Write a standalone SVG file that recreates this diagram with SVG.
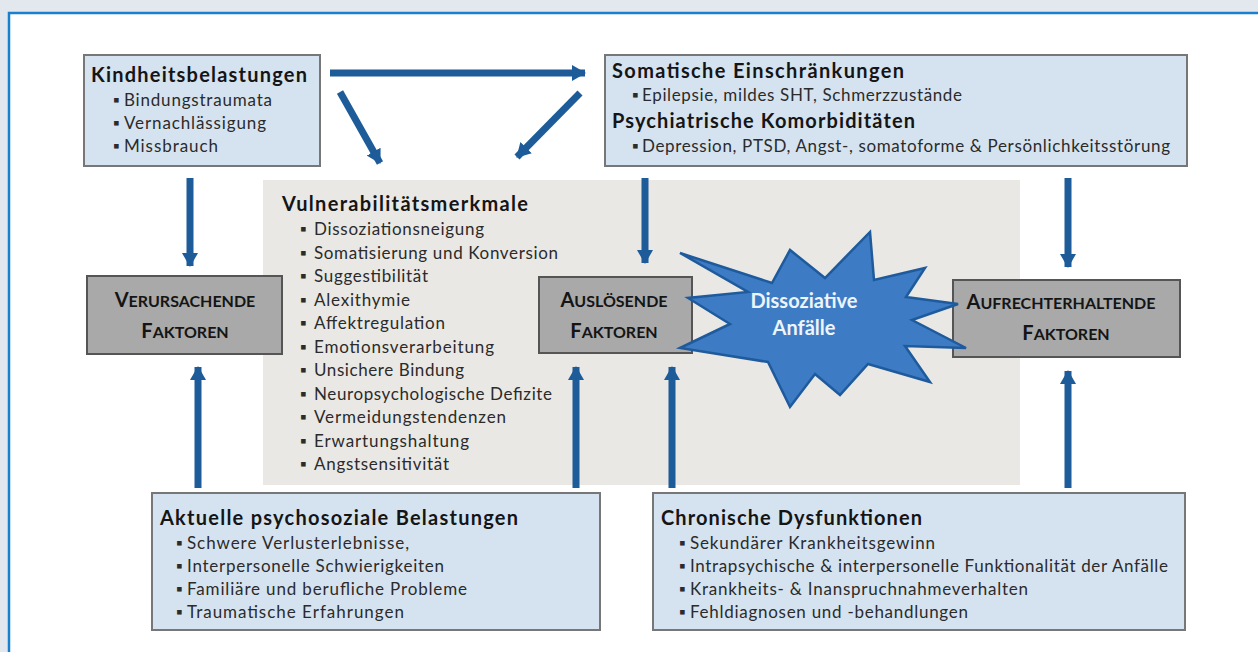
<svg xmlns="http://www.w3.org/2000/svg" width="1258" height="652" viewBox="0 0 1258 652">
<defs>
<marker id="ah" markerUnits="userSpaceOnUse" markerWidth="18" markerHeight="18" refX="13" refY="9" orient="auto">
<path d="M0,1 L14,9 L0,17 Z" fill="#1d5b99"/>
</marker>
<style>
.box{fill:#d5e3f1;stroke:#777;stroke-width:2}
.fac{fill:#a9a9a9;stroke:#555;stroke-width:2}
.t{font-family:Lato,"Liberation Sans",sans-serif;font-weight:bold;font-size:20px;fill:#151515}
.i{font-family:Lato,"Liberation Sans",sans-serif;font-size:17px;fill:#2b2b2b}
.f{font-family:Lato,"Liberation Sans",sans-serif;font-weight:bold;fill:#151515;text-anchor:middle}
.big{font-size:20px}
.sm{font-size:16px}
.st{font-family:Lato,"Liberation Sans",sans-serif;font-weight:bold;font-size:20px;fill:#eef4fb;text-anchor:middle}
.a{stroke:#1d5b99;stroke-width:7;fill:none;marker-end:url(#ah)}
</style>
</defs>
<rect x="0" y="0" width="1258" height="652" fill="#e3e7ee"/>
<rect x="9" y="13" width="1260" height="650" fill="#ffffff" stroke="#1a7fcf" stroke-width="2.5"/>

<g id="vulnerabilitaet">
<rect x="263" y="180" width="757" height="305" fill="#e9e8e5"/>
<text class="t" x="282" y="211" textLength="246">Vulnerabilitätsmerkmale</text>
<g class="i">
<text x="300" y="235">▪</text><text x="314" y="235" textLength="170">Dissoziationsneigung</text>
<text x="300" y="259">▪</text><text x="314" y="259" textLength="244">Somatisierung und Konversion</text>
<text x="300" y="282">▪</text><text x="314" y="282" textLength="114">Suggestibilität</text>
<text x="300" y="306">▪</text><text x="314" y="306" textLength="96">Alexithymie</text>
<text x="300" y="329">▪</text><text x="314" y="329" textLength="131">Affektregulation</text>
<text x="300" y="353">▪</text><text x="314" y="353" textLength="180">Emotionsverarbeitung</text>
<text x="300" y="376">▪</text><text x="314" y="376" textLength="150">Unsichere Bindung</text>
<text x="300" y="400">▪</text><text x="314" y="400" textLength="238">Neuropsychologische Defizite</text>
<text x="300" y="423">▪</text><text x="314" y="423" textLength="192">Vermeidungstendenzen</text>
<text x="300" y="447">▪</text><text x="314" y="447" textLength="155">Erwartungshaltung</text>
<text x="300" y="470">▪</text><text x="314" y="470" textLength="135">Angstsensitivität</text>
</g>
</g>

<g id="kindheit">
<rect class="box" x="84" y="55" width="236" height="111"/>
<text class="t" x="91" y="82" textLength="216">Kindheitsbelastungen</text>
<g class="i">
<text x="113" y="106">▪</text><text x="124" y="106" textLength="148">Bindungstraumata</text>
<text x="113" y="129">▪</text><text x="124" y="129" textLength="142">Vernachlässigung</text>
<text x="113" y="152">▪</text><text x="124" y="152" textLength="94">Missbrauch</text>
</g>
</g>

<g id="somatisch">
<rect class="box" x="605" y="55" width="582" height="111"/>
<text class="t" x="612" y="78" textLength="292">Somatische Einschränkungen</text>
<g class="i">
<text x="632" y="101">▪</text><text x="642" y="101" textLength="320">Epilepsie, mildes SHT, Schmerzzustände</text>
</g>
<text class="t" x="612" y="128" textLength="303">Psychiatrische Komorbiditäten</text>
<g class="i">
<text x="632" y="152">▪</text><text x="642" y="152" textLength="528">Depression, PTSD, Angst-, somatoforme &amp;  Persönlichkeitsstörung</text>
</g>
</g>

<g id="verursachende">
<rect class="fac" x="87" y="276" width="195" height="78"/>
<text class="f" x="185" y="307"><tspan class="big">V</tspan><tspan class="sm">ERURSACHENDE</tspan></text>
<text class="f" x="185" y="338"><tspan class="big">F</tspan><tspan class="sm">AKTOREN</tspan></text>
</g>

<g id="ausloesende">
<rect class="fac" x="539" y="277" width="153" height="76"/>
<text class="f" x="614" y="307"><tspan class="big">A</tspan><tspan class="sm">USLÖSENDE</tspan></text>
<text class="f" x="614" y="338"><tspan class="big">F</tspan><tspan class="sm">AKTOREN</tspan></text>
</g>

<g id="aufrechterhaltende">
<rect class="fac" x="953" y="280" width="227" height="77"/>
<text class="f" x="1061" y="309"><tspan class="big">A</tspan><tspan class="sm">UFRECHTERHALTENDE</tspan></text>
<text class="f" x="1066" y="340"><tspan class="big">F</tspan><tspan class="sm">AKTOREN</tspan></text>
</g>

<g id="anfaelle">
<path d="M680,253 L772,283 L790,250 L825,278 L870,232 L874,280 L925,268 L906,297 L958,304 L912,320 L966,348 L905,346 L930,382 L868,364 L840,395 L815,374 L790,407 L768,362 L680,348 L730,324 L688,298 L748,292 Z" fill="#3d7cc4" stroke="#1e5a9c" stroke-width="2.5" stroke-linejoin="miter"/>
<text class="st" x="804" y="308">Dissoziative</text>
<text class="st" x="804" y="335">Anfälle</text>
</g>

<g id="aktuelle">
<rect class="box" x="152" y="493" width="448" height="137"/>
<text class="t" x="160" y="525" textLength="358">Aktuelle psychosoziale  Belastungen</text>
<g class="i">
<text x="176" y="549">▪</text><text x="187" y="549" textLength="222">Schwere Verlusterlebnisse,</text>
<text x="176" y="572">▪</text><text x="187" y="572" textLength="257">Interpersonelle Schwierigkeiten</text>
<text x="176" y="595">▪</text><text x="187" y="595" textLength="280">Familiäre und berufliche Probleme</text>
<text x="176" y="618">▪</text><text x="187" y="618" textLength="217">Traumatische Erfahrungen</text>
</g>
</g>

<g id="chronisch">
<rect class="box" x="653" y="493" width="532" height="137"/>
<text class="t" x="661" y="525" textLength="261">Chronische Dysfunktionen</text>
<g class="i">
<text x="679" y="549">▪</text><text x="690" y="549" textLength="245">Sekundärer Krankheitsgewinn</text>
<text x="679" y="572">▪</text><text x="690" y="572" textLength="478">Intrapsychische &amp; interpersonelle Funktionalität der Anfälle</text>
<text x="679" y="595">▪</text><text x="690" y="595" textLength="338">Krankheits- &amp; Inanspruchnahmeverhalten</text>
<text x="679" y="618">▪</text><text x="690" y="618" textLength="278">Fehldiagnosen und -behandlungen</text>
</g>
</g>

<g id="connectors">
<line class="a" x1="330" y1="73" x2="585" y2="73"/>
<line class="a" x1="340" y1="92" x2="380" y2="163"/>
<line class="a" x1="580" y1="93" x2="517" y2="157"/>
<line class="a" x1="190" y1="178" x2="190" y2="266"/>
<line class="a" x1="645" y1="178" x2="645" y2="263"/>
<line class="a" x1="1068" y1="178" x2="1068" y2="267"/>
<line class="a" x1="198" y1="488" x2="198" y2="367"/>
<line class="a" x1="576" y1="488" x2="576" y2="367"/>
<line class="a" x1="672" y1="488" x2="672" y2="367"/>
<line class="a" x1="1068" y1="488" x2="1068" y2="371"/>
</g>
</svg>
